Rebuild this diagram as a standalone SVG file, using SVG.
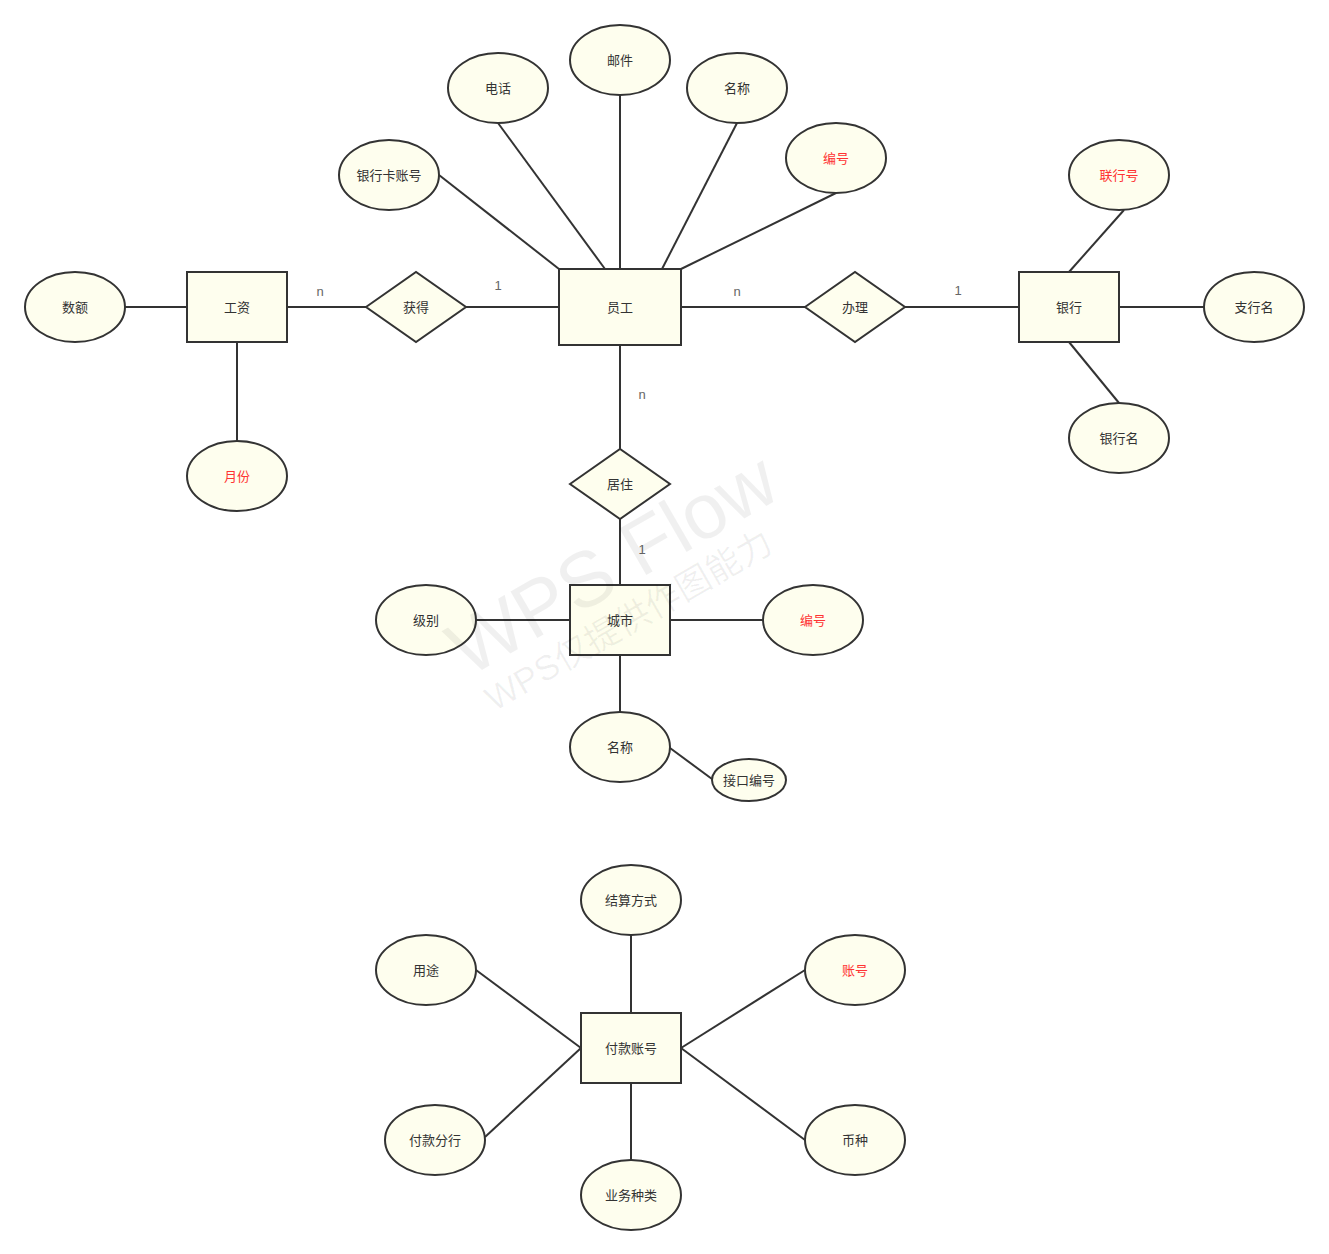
<svg xmlns="http://www.w3.org/2000/svg" width="1329" height="1254" viewBox="0 0 1329 1254">
<style>
.s{fill:#fefeee;stroke:#333;stroke-width:2}
.t{font-family:"Liberation Sans","Noto Sans CJK SC",sans-serif;font-size:13px;fill:#333;text-anchor:middle;dominant-baseline:central}
.r{fill:#ff3333}
.c line{stroke:#333;stroke-width:2}
.l{font-family:"Liberation Sans",sans-serif;font-size:13px;fill:#666;text-anchor:middle}
.w{font-family:"Liberation Sans","Noto Sans CJK SC",sans-serif;fill:#000;fill-opacity:0.06}
</style>
<rect width="1329" height="1254" fill="#fff"/>
<g class="c" id="connectors">
<line x1="125" y1="307" x2="187" y2="307"/>
<line x1="287" y1="307" x2="366" y2="307"/>
<line x1="466" y1="307" x2="559" y2="307"/>
<line x1="237" y1="342" x2="237" y2="441"/>
<line x1="681" y1="307" x2="805" y2="307"/>
<line x1="905" y1="307" x2="1019" y2="307"/>
<line x1="1119" y1="307" x2="1204" y2="307"/>
<line x1="1069" y1="272" x2="1124" y2="210"/>
<line x1="1069" y1="342" x2="1119" y2="403"/>
<line x1="439" y1="175" x2="559" y2="269"/>
<line x1="498" y1="123" x2="605" y2="269"/>
<line x1="620" y1="95" x2="620" y2="269"/>
<line x1="737" y1="123" x2="662" y2="269"/>
<line x1="836" y1="193" x2="681" y2="269"/>
<line x1="620" y1="345" x2="620" y2="449"/>
<line x1="620" y1="519" x2="620" y2="585"/>
<line x1="476" y1="620" x2="570" y2="620"/>
<line x1="670" y1="620" x2="763" y2="620"/>
<line x1="620" y1="655" x2="620" y2="712"/>
<line x1="670" y1="748" x2="712" y2="779"/>
<line x1="631" y1="935" x2="631" y2="1013"/>
<line x1="631" y1="1083" x2="631" y2="1160"/>
<line x1="476" y1="970" x2="581" y2="1048"/>
<line x1="485" y1="1137" x2="581" y2="1048"/>
<line x1="681" y1="1048" x2="805" y2="970"/>
<line x1="681" y1="1048" x2="805" y2="1140"/>
<text class="l" x="320" y="296">n</text>
<text class="l" x="498" y="290">1</text>
<text class="l" x="737" y="296">n</text>
<text class="l" x="958" y="295">1</text>
<text class="l" x="642" y="399">n</text>
<text class="l" x="642" y="554">1</text>
</g>
<g id="n-yuangong"><rect class="s" x="559" y="269" width="122" height="76"/><text class="t" x="620" y="307">员工</text></g>
<g id="n-gongzi"><rect class="s" x="187" y="272" width="100" height="70"/><text class="t" x="237" y="307">工资</text></g>
<g id="n-huode"><polygon class="s" points="366,307 416,272 466,307 416,342"/><text class="t" x="416" y="307">获得</text></g>
<g id="n-banli"><polygon class="s" points="805,307 855,272 905,307 855,342"/><text class="t" x="855" y="307">办理</text></g>
<g id="n-yinhang"><rect class="s" x="1019" y="272" width="100" height="70"/><text class="t" x="1069" y="307">银行</text></g>
<g id="n-zhihangming"><ellipse class="s" cx="1254" cy="307" rx="50" ry="35"/><text class="t" x="1254" y="307">支行名</text></g>
<g id="n-lianhanghao"><ellipse class="s" cx="1119" cy="175" rx="50" ry="35"/><text class="t r" x="1119" y="175">联行号</text></g>
<g id="n-yinhangming"><ellipse class="s" cx="1119" cy="438" rx="50" ry="35"/><text class="t" x="1119" y="438">银行名</text></g>
<g id="n-shue"><ellipse class="s" cx="75" cy="307" rx="50" ry="35"/><text class="t" x="75" y="307">数额</text></g>
<g id="n-yuefen"><ellipse class="s" cx="237" cy="476" rx="50" ry="35"/><text class="t r" x="237" y="476">月份</text></g>
<g id="n-yinhangka"><ellipse class="s" cx="389" cy="175" rx="50" ry="35"/><text class="t" x="389" y="175">银行卡账号</text></g>
<g id="n-dianhua"><ellipse class="s" cx="498" cy="88" rx="50" ry="35"/><text class="t" x="498" y="88">电话</text></g>
<g id="n-youjian"><ellipse class="s" cx="620" cy="60" rx="50" ry="35"/><text class="t" x="620" y="60">邮件</text></g>
<g id="n-mingcheng1"><ellipse class="s" cx="737" cy="88" rx="50" ry="35"/><text class="t" x="737" y="88">名称</text></g>
<g id="n-bianhao1"><ellipse class="s" cx="836" cy="158" rx="50" ry="35"/><text class="t r" x="836" y="158">编号</text></g>
<g id="n-juzhu"><polygon class="s" points="570,484 620,449 670,484 620,519"/><text class="t" x="620" y="484">居住</text></g>
<g id="n-chengshi"><rect class="s" x="570" y="585" width="100" height="70"/><text class="t" x="620" y="620">城市</text></g>
<g id="n-jibie"><ellipse class="s" cx="426" cy="620" rx="50" ry="35"/><text class="t" x="426" y="620">级别</text></g>
<g id="n-bianhao2"><ellipse class="s" cx="813" cy="620" rx="50" ry="35"/><text class="t r" x="813" y="620">编号</text></g>
<g id="n-mingcheng2"><ellipse class="s" cx="620" cy="747" rx="50" ry="35"/><text class="t" x="620" y="747">名称</text></g>
<g id="n-jiekou"><ellipse class="s" cx="749" cy="780" rx="37" ry="21"/><text class="t" x="749" y="780">接口编号</text></g>
<g id="n-fukuan"><rect class="s" x="581" y="1013" width="100" height="70"/><text class="t" x="631" y="1048">付款账号</text></g>
<g id="n-jiesuan"><ellipse class="s" cx="631" cy="900" rx="50" ry="35"/><text class="t" x="631" y="900">结算方式</text></g>
<g id="n-yongtu"><ellipse class="s" cx="426" cy="970" rx="50" ry="35"/><text class="t" x="426" y="970">用途</text></g>
<g id="n-zhanghao"><ellipse class="s" cx="855" cy="970" rx="50" ry="35"/><text class="t r" x="855" y="970">账号</text></g>
<g id="n-fenhang"><ellipse class="s" cx="435" cy="1140" rx="50" ry="35"/><text class="t" x="435" y="1140">付款分行</text></g>
<g id="n-bizhong"><ellipse class="s" cx="855" cy="1140" rx="50" ry="35"/><text class="t" x="855" y="1140">币种</text></g>
<g id="n-yewu"><ellipse class="s" cx="631" cy="1195" rx="50" ry="35"/><text class="t" x="631" y="1195">业务种类</text></g>
<g id="watermark">
<text class="w" x="468" y="678" font-size="78" transform="rotate(-30 468 678)">WPS Flow</text>
<text class="w" x="494" y="712" font-size="35" transform="rotate(-30 494 712)">WPS仅提供作图能力</text>
</g>
</svg>
